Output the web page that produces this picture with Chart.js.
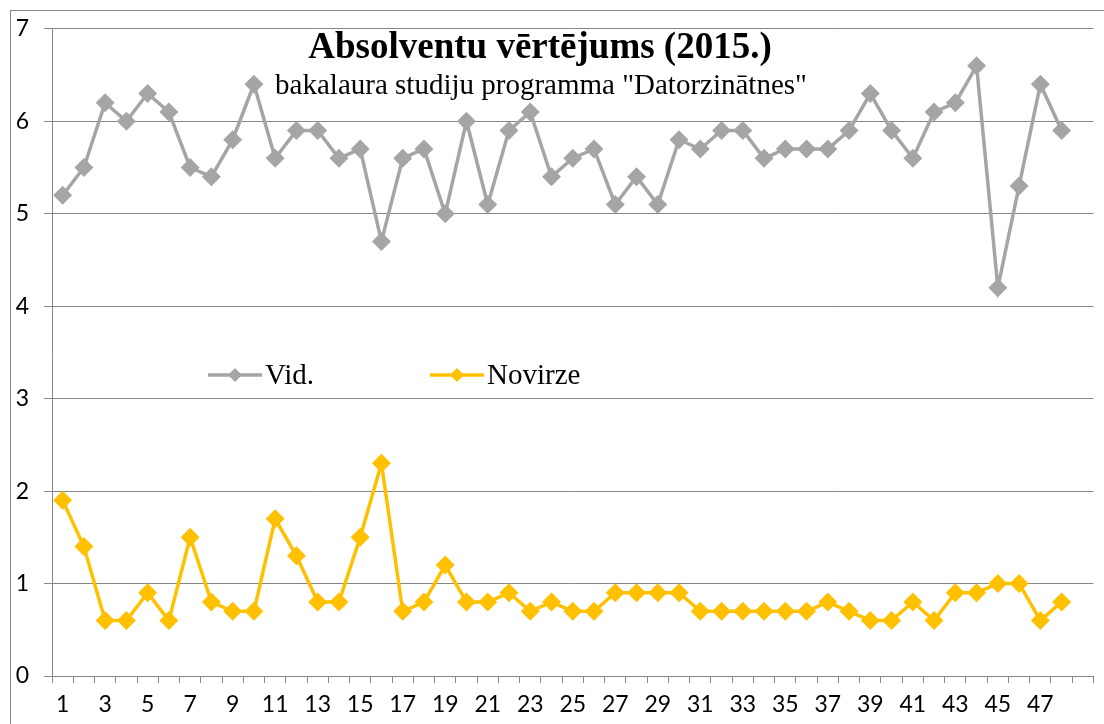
<!DOCTYPE html>
<html>
<head>
<meta charset="utf-8">
<script src="https://cdn.jsdelivr.net/npm/chart.js@4/dist/chart.umd.min.js"></script>
<style>
  html, body { margin: 0; padding: 0; background: #fff; }
  #wrap { width: 1104px; height: 724px; }
</style>
</head>
<body>
<div id="wrap"><canvas id="chart" width="1104" height="724"></canvas></div>
<script>
// dati
var labels = ['1','2','3','4','5','6','7','8','9','10','11','12','13','14','15','16',
  '17','18','19','20','21','22','23','24','25','26','27','28','29','30','31','32',
  '33','34','35','36','37','38','39','40','41','42','43','44','45','46','47','48',''];
var vid = [5.2,5.5,6.2,6.0,6.3,6.1,5.5,5.4,5.8,6.4,5.6,5.9,5.9,5.6,5.7,4.7,
  5.6,5.7,5.0,6.0,5.1,5.9,6.1,5.4,5.6,5.7,5.1,5.4,5.1,5.8,5.7,5.9,
  5.9,5.6,5.7,5.7,5.7,5.9,6.3,5.9,5.6,6.1,6.2,6.6,4.2,5.3,6.4,5.9,null];
var novirze = [1.9,1.4,0.6,0.6,0.9,0.6,1.5,0.8,0.7,0.7,1.7,1.3,0.8,0.8,1.5,2.3,
  0.7,0.8,1.2,0.8,0.8,0.9,0.7,0.8,0.7,0.7,0.9,0.9,0.9,0.9,0.7,0.7,
  0.7,0.7,0.7,0.7,0.8,0.7,0.6,0.6,0.8,0.6,0.9,0.9,1.0,1.0,0.6,0.8,null];
var yTicks = [0,1,2,3,4,5,6,7];

var titleText = 'Absolventu vērtējums (2015.)';
var subtitleText = 'bakalaura studiju programma "Datorzinātnes"';

var grayCol = '#A5A5A5';
var yellowCol = '#FFC000';
var axisCol = '#868686';

// rāmis, virsraksts un leģenda
var decor = {
  id: 'decor',
  beforeDraw: function(chart) {
    var ctx = chart.ctx;
    ctx.save();
    ctx.fillStyle = '#fff';
    ctx.fillRect(0, 0, chart.width, chart.height);
    ctx.strokeStyle = axisCol;
    ctx.lineWidth = 1;
    ctx.strokeRect(10.5, 10.5, chart.width + 20, chart.height + 20);
    ctx.restore();
  },
  afterDraw: function(chart) {
    var ctx = chart.ctx;
    ctx.save();
    ctx.fillStyle = '#000';
    ctx.textAlign = 'center';
    ctx.textBaseline = 'middle';
    ctx.font = 'bold 37px "Liberation Serif", "Times New Roman", serif';
    ctx.fillText(titleText, 540, 48);
    ctx.font = '29px "Liberation Serif", "Times New Roman", serif';
    ctx.fillText(subtitleText, 541, 86);

    var items = [
      { text: 'Vid.', color: grayCol, x: 208 },
      { text: 'Novirze', color: yellowCol, x: 430 }
    ];
    var y = 375;
    ctx.font = '29px "Liberation Serif", "Times New Roman", serif';
    ctx.textAlign = 'left';
    items.forEach(function(it) {
      ctx.strokeStyle = it.color;
      ctx.lineWidth = 3.5;
      ctx.beginPath();
      ctx.moveTo(it.x, y);
      ctx.lineTo(it.x + 54, y);
      ctx.stroke();
      ctx.fillStyle = it.color;
      ctx.beginPath();
      ctx.moveTo(it.x + 27, y - 7);
      ctx.lineTo(it.x + 34, y);
      ctx.lineTo(it.x + 27, y + 7);
      ctx.lineTo(it.x + 20, y);
      ctx.closePath();
      ctx.fill();
      ctx.fillStyle = '#000';
      ctx.fillText(it.text, it.x + 57, y + 1);
    });
    ctx.restore();
  }
};

var ctx = document.getElementById('chart').getContext('2d');
var chart = new Chart(ctx, {
  type: 'line',
  data: {
    labels: labels,
    datasets: [{
      label: 'Vid.',
      data: vid,
      borderColor: grayCol,
      backgroundColor: grayCol,
      borderWidth: 3.5,
      pointStyle: 'rectRot',
      pointRadius: 7,
      tension: 0
    }, {
      label: 'Novirze',
      data: novirze,
      borderColor: yellowCol,
      backgroundColor: yellowCol,
      borderWidth: 3.5,
      pointStyle: 'rectRot',
      pointRadius: 7,
      tension: 0
    }]
  },
  options: {
    responsive: false,
    animation: false,
    layout: { padding: { left: 0, top: 27, right: 5, bottom: 0 } },
    plugins: {
      legend: { display: false },
      title: { display: false },
      tooltip: { enabled: false }
    },
    scales: {
      x: {
        offset: true,
        grid: {
          offset: true,
          drawOnChartArea: false,
          drawTicks: true,
          tickLength: 7,
          color: axisCol
        },
        border: { display: true, color: axisCol },
        ticks: {
          autoSkip: false,
          maxRotation: 0,
          padding: 8,
          color: '#000',
          font: { family: 'Lato, "Open Sans", sans-serif', size: 23 },
          callback: function(val, i) { return i % 2 === 0 ? labels[i] : ''; }
        },
        afterFit: function(scale) { scale.height = 48; }
      },
      y: {
        min: 0,
        max: 7,
        afterBuildTicks: function(scale) {
          scale.ticks = yTicks.map(function(v) { return { value: v }; });
        },
        grid: {
          color: axisCol,
          drawTicks: true,
          tickLength: 8
        },
        border: { display: true, color: axisCol },
        ticks: {
          padding: 15,
          color: '#000',
          font: { family: 'Lato, "Open Sans", sans-serif', size: 23 }
        },
        afterFit: function(scale) { scale.width = 52; }
      }
    }
  },
  plugins: [decor]
});
</script>
</body>
</html>
